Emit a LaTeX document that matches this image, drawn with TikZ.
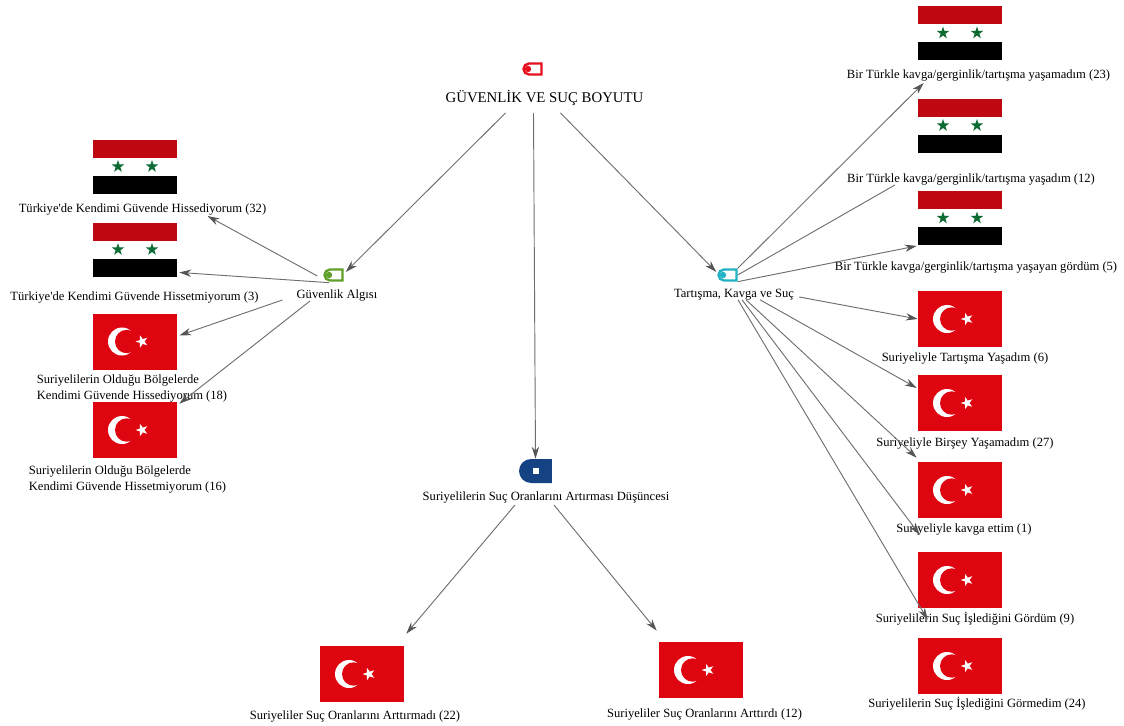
\documentclass[tikz,border=0pt]{standalone}
\usepackage{fontspec}
\setmainfont{Liberation Serif}
\usetikzlibrary{shapes.misc,arrows.meta,positioning,calc}
\definecolor{turred}{HTML}{DE0510}
\definecolor{syrred}{HTML}{C00812}
\definecolor{syrgreen}{HTML}{0B6B33}
\definecolor{lineGray}{HTML}{6E6E6E}
\definecolor{headGray}{HTML}{555555}
\definecolor{topRed}{HTML}{E60F1E}
\definecolor{guvGreen}{HTML}{60A028}
\definecolor{tartTeal}{HTML}{20B2C4}
\definecolor{midNavy}{HTML}{144282}
\newcommand{\fivestar}[5]{\fill[#4] (#1,#2) +(#5:#3) -- +(#5+36:#3*.382) -- +(#5+72:#3) -- +(#5+108:#3*.382) -- +(#5+144:#3) -- +(#5+180:#3*.382) -- +(#5+216:#3) -- +(#5+252:#3*.382) -- +(#5+288:#3) -- +(#5+324:#3*.382) -- cycle;}

\begin{document}
\begin{tikzpicture}[x=0.75pt, y=-0.75pt, every node/.style={font=\fontsize{9.43pt}{12pt}\selectfont, inner sep=0pt}]
\tikzstyle{turflag} = [rectangle, minimum width=63pt, minimum height=42pt, fill=turred, path picture={
  \begin{scope}[shift={(path picture bounding box.center)}]
    \fill[white] (-13,0) circle (14);
    \fill[turred] (-8.3,0) circle (11.7);
    \fivestar{7}{0}{6.5}{white}{180}
  \end{scope}}]
\tikzstyle{syrflag} = [rectangle, minimum width=63pt, minimum height=40pt, fill=white, path picture={
  \begin{scope}[shift={(path picture bounding box.center)}]
    \fill[syrred] (-42,-27) rectangle (42,-9);
    \fill[black] (-42,9) rectangle (42,27);
    \fivestar{-17}{0}{6.5}{syrgreen}{-90}
    \fivestar{17}{0}{6.5}{syrgreen}{-90}
  \end{scope}}]
\tikzstyle{caption} = [align=left, yshift=-1.5pt]
\tikzstyle{arrow} = [draw=lineGray, line width=0.7pt, -{Stealth[length=9pt,width=5.5pt,color=headGray]}]
\tikzstyle{plainline} = [draw=lineGray, line width=0.7pt]
\tikzset{tagicon/.style={rounded rectangle, rounded rectangle right arc=none, draw=#1, fill=white, line width=1.8pt, minimum width=13.5pt, minimum height=8.2pt, path picture={
  \fill[#1] ($(path picture bounding box.center)+(-4.5,0)$) circle (3.2);}}}
\tikzstyle{navyicon} = [rounded rectangle, rounded rectangle right arc=none, fill=midNavy, minimum width=24.7pt, minimum height=18pt, path picture={
  \fill[white] ($(path picture bounding box.center)+(-3,-3)$) rectangle ++(6,6);}]

\useasboundingbox (0,0) rectangle (1124,725);

% top
\node [tagicon=topRed] (topicon) at (532.5,69) {};
\node [caption, font=\fontsize{11.1pt}{13pt}\selectfont] (toplab) at (544.5,96) {GÜVENLİK VE SUÇ BOYUTU};

% left branch
\node [tagicon=guvGreen] (guvicon) at (333.5,275) {};
\node [caption] (guvlab) at (337,293) {Güvenlik Algısı};
\node [syrflag] (flagA) at (135,166.5) {};
\node [caption] (labA) at (142.5,207) {Türkiye\textquotesingle de Kendimi Güvende Hissediyorum (32)};
\node [syrflag] (flagB) at (135,249.5) {};
\node [caption] (labB) at (134.5,295) {Türkiye\textquotesingle de Kendimi Güvende Hissetmiyorum (3)};
\node [turflag] (flagC) at (135,341.5) {};
\node [caption] (labC) at (132,386) {Suriyelilerin Olduğu Bölgelerde\\Kendimi Güvende Hissediyorum (18)};
\node [turflag] (flagD) at (135,430) {};
\node [caption] (labD) at (127.5,477) {Suriyelilerin Olduğu Bölgelerde\\Kendimi Güvende Hissetmiyorum (16)};

% middle branch
\node [navyicon] (midicon) at (535.5,471) {};
\node [caption] (midlab) at (546,495) {Suriyelilerin Suç Oranlarını Artırması Düşüncesi};
\node [turflag] (flagE) at (362,674) {};
\node [caption] (labE) at (355,714) {Suriyeliler Suç Oranlarını Arttırmadı (22)};
\node [turflag] (flagF) at (701,670) {};
\node [caption] (labF) at (704.5,712) {Suriyeliler Suç Oranlarını Arttırdı (12)};

% right branch
\node [tagicon=tartTeal] (tarticon) at (727.5,275) {};
\node [caption] (tartlab) at (734,293) {Tartışma, Kavga ve Suç};
\node [syrflag] (flagG) at (960,33) {};
\node [caption] (labG) at (978.5,73) {Bir Türkle kavga/gerginlik/tartışma yaşamadım (23)};
\node [syrflag] (flagH) at (960,125.5) {};
\node [caption] (labH) at (971,177) {Bir Türkle kavga/gerginlik/tartışma yaşadım (12)};
\node [syrflag] (flagI) at (960,218) {};
\node [caption] (labI) at (976,265) {Bir Türkle kavga/gerginlik/tartışma yaşayan gördüm (5)};
\node [turflag] (flagJ) at (960,319) {};
\node [caption] (labJ) at (965,356) {Suriyeliyle Tartışma Yaşadım (6)};
\node [turflag] (flagK) at (960,403) {};
\node [caption] (labK) at (965,441) {Suriyeliyle Birşey Yaşamadım (27)};
\node [turflag] (flagL) at (960,490) {};
\node [caption] (labL) at (964,527) {Suriyeliyle kavga ettim (1)};
\node [turflag] (flagM) at (960,580) {};
\node [caption] (labM) at (975,617) {Suriyelilerin Suç İşlediğini Gördüm (9)};
\node [turflag] (flagN) at (960,666) {};
\node [caption] (labN) at (977,702) {Suriyelilerin Suç İşlediğini Görmedim (24)};

% connectors
\draw [arrow] ($(toplab.south)+(-39,7)$) -- ($(guvicon.east)+(2,-3)$);
\draw [arrow] ($(toplab.south)+(-11,7)$) -- (midicon.north);
\draw [arrow] ($(toplab.south)+(16,7)$) -- ($(tarticon.west)+(-1,-3)$);

\draw [arrow] ($(guvicon.west)+(-6,1)$) -- ($(labA.south)+(65,1)$);
\draw [arrow] ($(guvicon.south west)+(-1,1)$) -- ($(flagB.south east)+(2,-4)$);
\draw [arrow] ($(guvlab.west)+(-14,5)$) -- ($(flagC.east)+(2,-6)$);
\draw [arrow] ($(guvlab.south)+(-27,0)$) -- ($(flagD.north east)+(2,2)$);

\draw [arrow] ($(midlab.south)+(-31,2)$) -- ($(flagE.north east)+(2,-12)$);
\draw [arrow] ($(midlab.south)+(8,2)$) -- ($(flagF.north west)+(-2,-11)$);

\draw [arrow] (tarticon.north east) -- ($(labG.south west)+(77,2)$);
\draw [plainline] (tarticon.east) -- ($(labH.south west)+(48,0)$);
\draw [arrow] (tarticon.south east) -- ($(flagI.south west)+(-1,1)$);
\draw [arrow] ($(tartlab.east)+(5,2)$) -- (flagJ.west);
\draw [arrow] ($(tartlab.south)+(26,-1)$) -- ($(flagK.west)+(-1,-15)$);
\draw [arrow] ($(tartlab.south)+(12,-1)$) -- ($(flagL.north west)+(-1,-4)$);
\draw [arrow] ($(tartlab.south)+(8,-1)$) -- ($(flagM.north west)+(2,-17)$);
\draw [arrow] ($(tartlab.south)+(4,-1)$) -- ($(flagN.north west)+(10,-18)$);
\end{tikzpicture}
\end{document}
